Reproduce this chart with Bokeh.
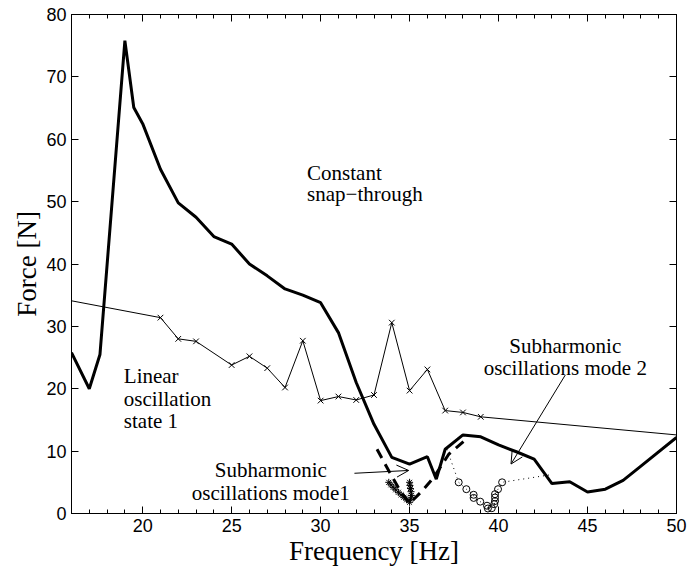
from bokeh.plotting import figure
from bokeh.models import (Range1d, LinearAxis, SingleIntervalTicker, Arrow, OpenHead,
                          Label, CustomJSTickFormatter)
from bokeh.embed import file_html
from bokeh.resources import INLINE

# ---------------- data ----------------
snap_freq = [16, 17, 17.6, 19, 19.5, 20, 21, 22, 23, 24, 25, 26, 27, 28, 29, 30, 31, 32, 33,
             34, 35, 36, 36.5, 37, 38, 39, 40, 41, 42, 43, 44, 45, 46, 47, 48, 50]
snap_force = [25.8, 20.0, 25.5, 75.8, 65.1, 62.5, 55.2, 49.8, 47.5, 44.4, 43.2, 40.0, 38.1, 36.0,
              35.0, 33.8, 29.0, 21.0, 14.3, 9.0, 7.9, 9.1, 5.5, 10.3, 12.6, 12.3, 11.0, 9.9, 8.7,
              4.8, 5.1, 3.45, 3.9, 5.3, 7.6, 12.2]

lin_freq = [16, 21, 22, 23, 25, 26, 27, 28, 29, 30, 31, 32, 33, 34, 35, 36, 37, 38, 39, 50]
lin_force = [34.1, 31.4, 28.0, 27.6, 23.8, 25.2, 23.3, 20.2, 27.7, 18.1, 18.75, 18.2, 19.0, 30.6,
             19.7, 23.1, 16.5, 16.2, 15.5, 12.6]
lin_mark_freq = [21, 22, 23, 25, 26, 27, 28, 29, 30, 31, 32, 33, 34, 35, 36, 37, 38, 39]
lin_mark_force = [31.4, 28.0, 27.6, 23.8, 25.2, 23.3, 20.2, 27.7, 18.1, 18.75, 18.2, 19.0, 30.6,
                  19.7, 23.1, 16.5, 16.2, 15.5]

dash_freq = [33.17, 33.83, 34.5, 35.0, 35.7, 36.36, 37.2, 38.3]
dash_force = [10.3, 6.85, 3.5, 1.6, 3.6, 5.8, 9.5, 12.2]

star_freq = [33.83, 33.95, 34.08, 34.22, 34.37, 34.52, 34.68, 34.84, 35.0, 35.06, 35.1, 35.08,
             35.05, 35.02, 35.0]
star_force = [5.0, 4.6, 4.2, 3.8, 3.4, 3.0, 2.6, 2.2, 1.8, 2.3, 2.9, 3.5, 4.0, 4.5, 5.0]

circ_freq = [37.76, 38.19, 38.6, 38.6, 38.97, 39.35, 39.4, 39.62, 39.76, 39.8, 39.8, 39.8,
             39.97, 40.2]
circ_force = [5.0, 3.9, 3.0, 2.5, 1.9, 1.25, 0.8, 0.85, 1.5, 2.0, 2.57, 3.1, 3.9, 5.0]

dot_freq = [37.1] + circ_freq + [42.9]
dot_force = [10.3] + circ_force + [6.2]

x_ticks_interval = 5
y_ticks_interval = 10

# ---------------- figure ----------------
p = figure(width=689, height=571, x_range=Range1d(16, 50), y_range=Range1d(0, 80),
           output_backend="svg", toolbar_location=None,
           min_border_left=71, min_border_right=13, min_border_top=14, min_border_bottom=58)
p.background_fill_color = "white"
p.border_fill_color = "white"
p.grid.visible = False
p.outline_line_color = "black"
p.outline_line_width = 1

p.xaxis.ticker = SingleIntervalTicker(interval=x_ticks_interval, num_minor_ticks=5)
p.yaxis.ticker = SingleIntervalTicker(interval=y_ticks_interval, num_minor_ticks=0)
p.xaxis.axis_label = "Frequency [Hz]"
p.yaxis.axis_label = "Force [N]"

for ax in [p.xaxis[0], p.yaxis[0]]:
    ax.major_tick_in = 7
    ax.major_tick_out = 0
    ax.minor_tick_in = 4
    ax.minor_tick_out = 0
    ax.axis_line_color = "black"
    ax.major_tick_line_color = "black"
    ax.minor_tick_line_color = "black"
    ax.major_label_text_font = "Liberation Sans"
    ax.major_label_text_font_size = "18px"
    ax.major_label_text_color = "black"
    ax.major_label_standoff = 5
    ax.axis_label_text_font = "Liberation Serif"
    ax.axis_label_text_font_size = "27px"
    ax.axis_label_text_font_style = "normal"
    ax.axis_label_text_color = "black"
    ax.axis_label_standoff = 1
p.yaxis[0].minor_tick_line_color = None

blank = CustomJSTickFormatter(code="return ''")
top = LinearAxis(ticker=SingleIntervalTicker(interval=x_ticks_interval, num_minor_ticks=5),
                 formatter=blank)
right = LinearAxis(ticker=SingleIntervalTicker(interval=y_ticks_interval, num_minor_ticks=0),
                   formatter=CustomJSTickFormatter(code="return ''"))
for ax in [top, right]:
    ax.major_tick_in = 7
    ax.major_tick_out = 0
    ax.minor_tick_in = 4
    ax.minor_tick_out = 0
    ax.major_label_standoff = 0
    ax.axis_line_color = "black"
right.minor_tick_line_color = None
p.add_layout(top, "above")
p.add_layout(right, "right")

# ---------------- glyphs ----------------
p.line(snap_freq, snap_force, line_color="black", line_width=3)
p.line(lin_freq, lin_force, line_color="black", line_width=1)
p.scatter(lin_mark_freq, lin_mark_force, marker="x", size=8, line_color="black", line_width=1)
p.line(dash_freq, dash_force, line_color="black", line_width=3, line_dash="10 7")
p.line(star_freq, star_force, line_color="black", line_width=1)
p.scatter(star_freq, star_force, marker="asterisk", size=7, line_color="black", line_width=1)
p.line(dot_freq, dot_force, line_color="black", line_width=1, line_dash="1 4")
p.scatter(circ_freq, circ_force, marker="circle", size=7, fill_color=None,
          line_color="black", line_width=1)

# ---------------- annotations ----------------
def lab(x, y, t, align="left"):
    p.add_layout(Label(x=x, y=y, text=t, text_font="Liberation Serif", text_font_size="21px",
                       text_color="black", text_align=align, text_baseline="alphabetic"))

lab(29.24, 54.6, "Constant")
lab(29.24, 51.2, "snap\u2212through")
lab(18.94, 22.0, "Linear")
lab(18.94, 18.4, "oscillation")
lab(18.94, 14.8, "state 1")
lab(43.75, 26.9, "Subharmonic", "center")
lab(43.75, 23.3, "oscillations mode 2", "center")
lab(27.2, 6.9, "Subharmonic", "center")
lab(27.2, 3.3, "oscillations mode1", "center")

p.add_layout(Arrow(end=OpenHead(size=12, line_width=1, line_color="black"),
                   x_start=31.9, y_start=6.45, x_end=34.95, y_end=6.9,
                   line_width=1, line_color="black"))
p.add_layout(Arrow(end=OpenHead(size=12, line_width=1, line_color="black"),
                   x_start=43.75, y_start=22.2, x_end=40.7, y_end=7.93,
                   line_width=1, line_color="black"))

open("out.html", "w").write(file_html(p, INLINE))
